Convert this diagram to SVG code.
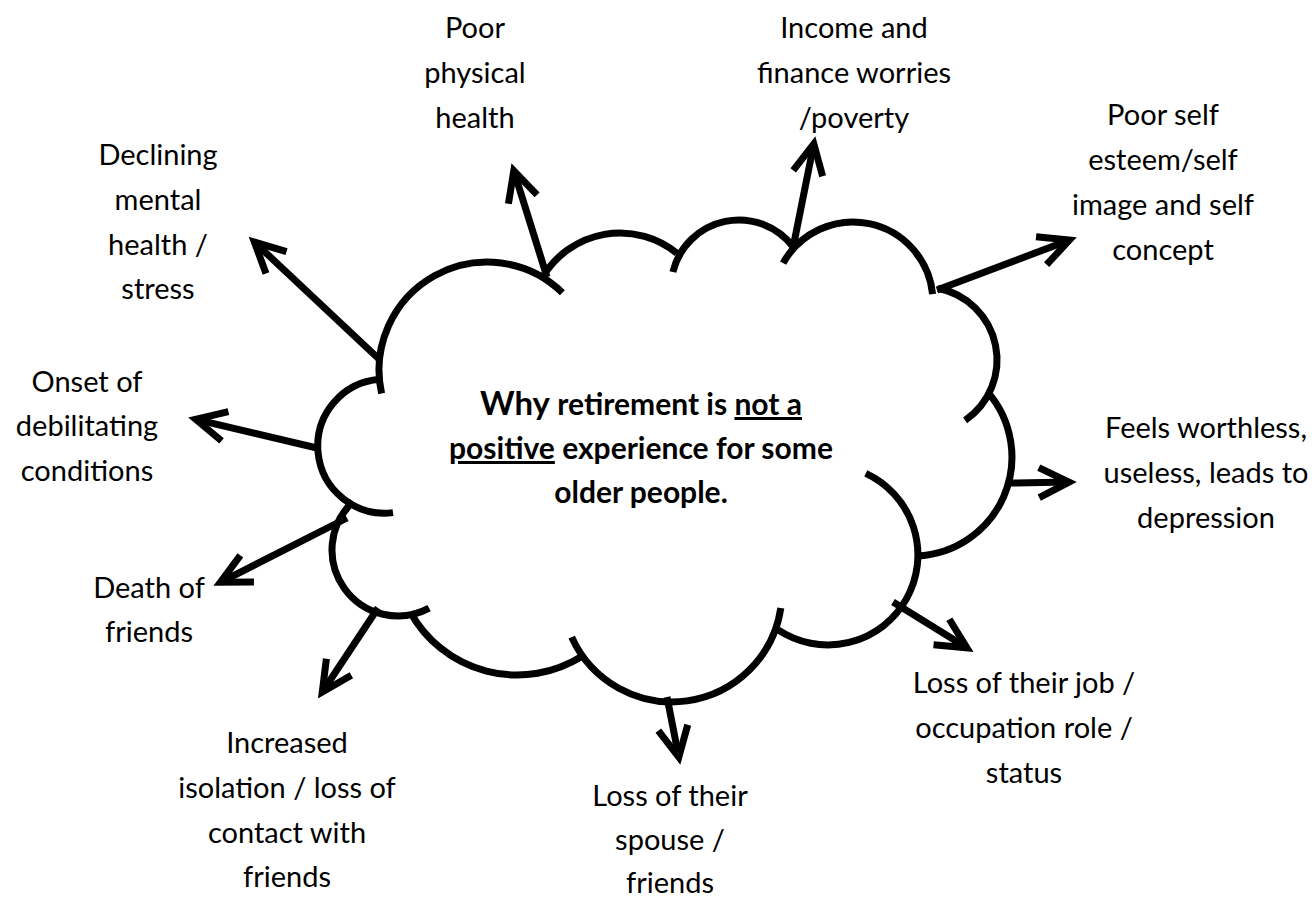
<svg xmlns="http://www.w3.org/2000/svg" width="1315" height="897" viewBox="0 0 1315 897">
<defs>
<style>
.lbl{font-family:Lato,"Liberation Sans",sans-serif;font-size:29px;fill:#000;text-anchor:middle}
.ctr{font-family:Lato,"Liberation Sans",sans-serif;font-size:30px;font-weight:bold;fill:#000;text-anchor:middle}
.cl{fill:none;stroke:#000;stroke-width:7;stroke-linecap:butt}
.ar{fill:none;stroke:#000;stroke-width:7;stroke-linecap:butt;marker-end:url(#ah)}
</style>
<marker id="ah" markerUnits="userSpaceOnUse" orient="auto" refX="0" refY="0" markerWidth="60" markerHeight="60" viewBox="-40 -30 60 60" overflow="visible">
<path d="M-30,-15 L0,0 L-30,15" fill="none" stroke="#000" stroke-width="7" stroke-linejoin="miter" stroke-miterlimit="10"/>
</marker>
</defs>
<rect width="1315" height="897" fill="#fff"/>
<g id="cloud">
<path class="cl" d="M381.6,393.4 A108,108 0 0 1 562.4,292.7"/>
<path class="cl" d="M542.8,276.8 A90,90 0 0 1 676.9,253.3"/>
<path class="cl" d="M672.9,272 A68,68 0 0 1 793.2,246.9"/>
<path class="cl" d="M783.1,263.1 A80,80 0 0 1 932.6,294.1"/>
<path class="cl" d="M937.9,288.3 A73,73 0 0 1 965.1,420.3"/>
<path class="cl" d="M987.8,392.2 A99,99 0 0 1 917,555.9"/>
<path class="cl" d="M865.8,473.3 A90,90 0 1 1 778.1,629.9"/>
<path class="cl" d="M780.8,608.1 A110,110 0 0 1 571.7,637.1"/>
<path class="cl" d="M581.6,656.5 A122,122 0 0 1 410.2,612"/>
<path class="cl" d="M429.1,608.2 A66,66 0 0 1 352.8,501.9"/>
<path class="cl" d="M393,512.6 A67,67 0 1 1 379.7,379.3"/>
<text class="ctr" x="641" y="415"><tspan font-size="33">Why</tspan> retirement is <tspan text-decoration="underline">not a</tspan></text>
<text class="ctr" x="641" y="459"><tspan text-decoration="underline">positive</tspan> experience for some</text>
<text class="ctr" x="641" y="503">older people.</text>
</g>
<g id="connectors">
<line class="ar" x1="380" y1="360" x2="254.4" y2="242.1"/>
<line class="ar" x1="547" y1="277" x2="513.8" y2="170.7"/>
<line class="ar" x1="793" y1="248" x2="813.8" y2="143.9"/>
<line class="ar" x1="937" y1="290" x2="1069.4" y2="240.1"/>
<line class="ar" x1="1010" y1="483" x2="1069" y2="482.1"/>
<line class="ar" x1="893" y1="602" x2="966.9" y2="647.8"/>
<line class="ar" x1="667" y1="697" x2="678.8" y2="757.1"/>
<line class="ar" x1="378" y1="608" x2="322.3" y2="692"/>
<line class="ar" x1="347" y1="518" x2="220.4" y2="582.3"/>
<line class="ar" x1="317" y1="448" x2="195.8" y2="419.4"/>
</g>
<g id="n-physical"><text class="lbl"><tspan x="475" y="38">Poor</tspan><tspan x="475" y="83">physical</tspan><tspan x="475" y="128">health</tspan></text></g>
<g id="n-income"><text class="lbl"><tspan x="854" y="38">Income and</tspan><tspan x="854" y="83">finance worries</tspan><tspan x="854" y="128">/poverty</tspan></text></g>
<g id="n-esteem"><text class="lbl"><tspan x="1163" y="125">Poor self</tspan><tspan x="1163" y="170">esteem/self</tspan><tspan x="1163" y="215">image and self</tspan><tspan x="1163" y="260">concept</tspan></text></g>
<g id="n-mental"><text class="lbl"><tspan x="158" y="165">Declining</tspan><tspan x="158" y="210">mental</tspan><tspan x="158" y="255">health /</tspan><tspan x="158" y="299">stress</tspan></text></g>
<g id="n-onset"><text class="lbl"><tspan x="87" y="392">Onset of</tspan><tspan x="87" y="436">debilitating</tspan><tspan x="87" y="481">conditions</tspan></text></g>
<g id="n-death"><text class="lbl"><tspan x="149" y="598">Death of</tspan><tspan x="149" y="642">friends</tspan></text></g>
<g id="n-isolation"><text class="lbl"><tspan x="287" y="753">Increased</tspan><tspan x="287" y="798">isolation / loss of</tspan><tspan x="287" y="843">contact with</tspan><tspan x="287" y="887">friends</tspan></text></g>
<g id="n-spouse"><text class="lbl"><tspan x="670" y="806">Loss of their</tspan><tspan x="670" y="850">spouse /</tspan><tspan x="670" y="893">friends</tspan></text></g>
<g id="n-job"><text class="lbl"><tspan x="1024" y="693">Loss of their job /</tspan><tspan x="1024" y="738">occupation role /</tspan><tspan x="1024" y="783">status</tspan></text></g>
<g id="n-worthless"><text class="lbl"><tspan x="1206" y="438">Feels worthless,</tspan><tspan x="1206" y="483">useless, leads to</tspan><tspan x="1206" y="528">depression</tspan></text></g>
</svg>
